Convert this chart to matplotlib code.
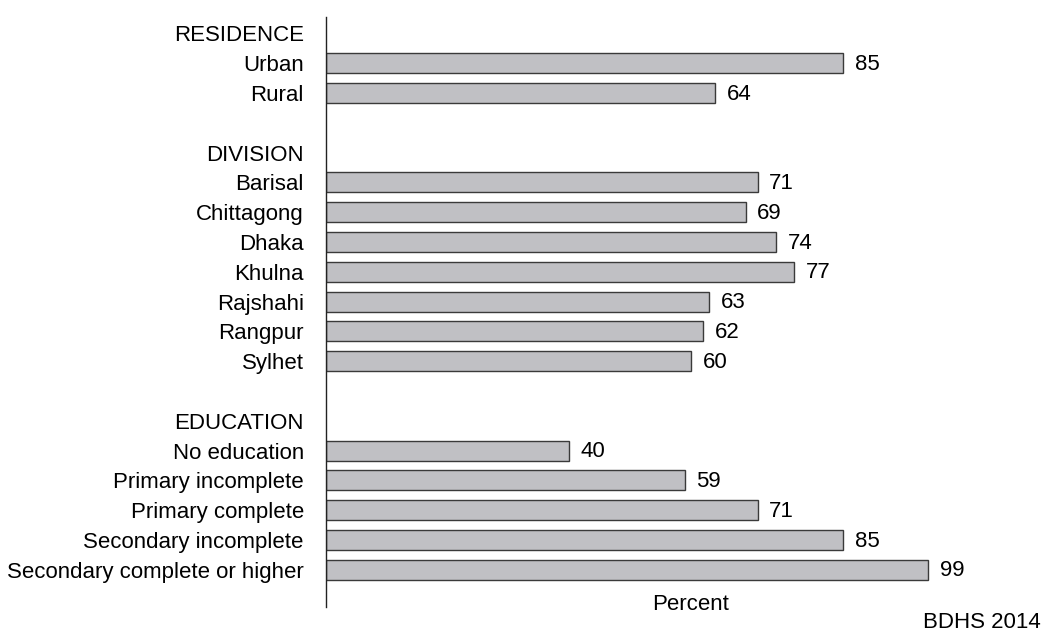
import matplotlib
matplotlib.use("Agg")
import matplotlib.pyplot as plt

plt.rcParams['font.family'] = ['Liberation Sans', 'DejaVu Sans']

headers = ["RESIDENCE", "DIVISION", "EDUCATION"]
groups = [
    ["Urban", "Rural"],
    ["Barisal", "Chittagong", "Dhaka", "Khulna", "Rajshahi", "Rangpur", "Sylhet"],
    ["No education", "Primary incomplete", "Primary complete",
     "Secondary incomplete", "Secondary complete or higher"],
]
values = [
    [85, 64],
    [71, 69, 74, 77, 63, 62, 60],
    [40, 59, 71, 85, 99],
]

FS = 16
W, H = 1046, 637
fig = plt.figure(figsize=(W / 100, H / 100), dpi=100)
ax_left, ax_right = 326, 995
ax_top, ax_bottom = 17, 607
ax = fig.add_axes([ax_left / W, 1 - ax_bottom / H, (ax_right - ax_left) / W, (ax_bottom - ax_top) / H])

row = 0
label_rows = []
for hdr, cats, vals in zip(headers, groups, values):
    label_rows.append((row, hdr))
    row += 1
    for c, v in zip(cats, vals):
        ax.barh(row, v, height=0.67, color="#c0c0c4", edgecolor="#3a3a3a", linewidth=1.0)
        ax.text(v + 1.9, row + 0.04, f"{v}", va="center", ha="left", fontsize=FS)
        label_rows.append((row, c))
        row += 1
    row += 1

ax.set_xlim(0, 110)
ax.set_ylim(19.25, -0.55)
ax.set_xticks([])
ax.set_yticks([r for r, _ in label_rows])
ax.set_yticklabels([t for _, t in label_rows], fontsize=FS)
ax.tick_params(axis="y", length=0, pad=16)
for s in ["top", "right", "bottom"]:
    ax.spines[s].set_visible(False)
ax.spines["left"].set_linewidth(1.0)
ax.spines["left"].set_color("#222222")

fig.text(691 / W, 1 - 605 / H, "Percent", ha="center", va="center", fontsize=FS)
fig.text(1041 / W, 1 - 623 / H, "BDHS 2014", ha="right", va="center", fontsize=FS)

fig.savefig("out.png", dpi=100)
